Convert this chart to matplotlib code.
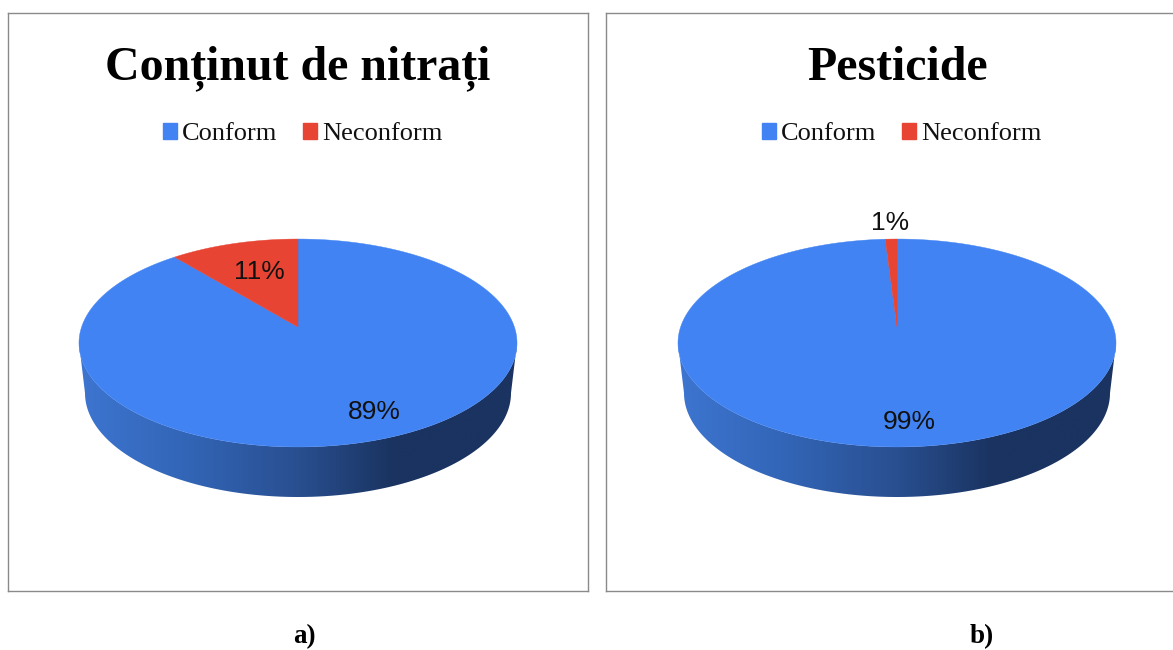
import numpy as np
import matplotlib
matplotlib.use("Agg")
import matplotlib.pyplot as plt
from matplotlib.colors import LinearSegmentedColormap
from matplotlib.patches import Patch, Polygon

plt.rcParams['font.family'] = ['Liberation Serif', 'DejaVu Serif']

# data
categories = ["Conform", "Neconform"]
nitrati_values = [89, 11]
pesticide_values = [99, 1]
titles = ["Conținut de nitrați", "Pesticide"]
captions = ["a)", "b)"]

BLUE = "#4183f2"
RED = "#e84433"
W, H = 1173, 650

side_cmap = LinearSegmentedColormap.from_list(
    "side", [(0, "#3d75d0"), (0.25, "#3265b6"), (0.5, "#294f90"), (0.72, "#1a3360"), (1, "#1a3360")])


def project(u, v, cx):
    # unit disc -> tilted ellipse, apex sits above the ellipse centre
    k = 0.1538
    return cx + 216.4 * u / (1 + k * v), 327 - 101.5 * v / (1 + k * v)


def add_axes_px(fig, x0, x1, y0, y1):
    ax = fig.add_axes([x0 / W, 1 - y1 / H, (x1 - x0) / W, (y1 - y0) / H])
    ax.set_xlim(x0, x1)
    ax.set_ylim(y1, y0)
    ax.set_xticks([])
    ax.set_yticks([])
    for s in ax.spines.values():
        s.set_color("#8a8a8a")
        s.set_linewidth(1.0)
    return ax


def draw_pie(ax, values, cx, title, label_xy):
    # side wall, gradient clipped to the outline
    t = np.linspace(0, np.pi, 300)
    top_x = cx + 219 * np.cos(t)
    top_y = 343 + 104 * np.sin(t)
    bot_x = cx + 213 * np.cos(t[::-1])
    bot_y = 393 + 104 * np.sin(t[::-1])
    outline = Polygon(np.column_stack([np.r_[top_x, bot_x], np.r_[top_y, bot_y]]),
                      closed=True, facecolor="none", edgecolor="none")
    ax.add_patch(outline)
    grad = np.linspace(0, 1, 256).reshape(1, -1)
    im = ax.imshow(grad, cmap=side_cmap, aspect="auto", zorder=1,
                   extent=(cx - 219, cx + 219, 500, 340))
    im.set_clip_path(outline)
    ax.set_xlim(ax.get_xlim())

    # top face, clockwise from 12 o'clock; the smaller slice ends at the top
    shares = np.array(values) / sum(values)
    start = 0.0
    for share, color in zip(shares, [BLUE, RED]):
        a = 2 * np.pi * np.linspace(start, start + share, 400)
        x, y = project(np.sin(a), np.cos(a), cx)
        ax.fill(np.r_[cx, x], np.r_[327, y], color=color, linewidth=0.3, zorder=2)
        start += share

    for val, (lx, ly) in zip(values, label_xy):
        ax.text(lx, ly, f"{val}%", family="Liberation Sans", fontsize=19,
                ha="center", va="center", color="#111111", zorder=3)

    ax.text(cx, 68, title, fontsize=34.5, fontweight="bold", ha="center", va="center")

    handles = [Patch(color=BLUE), Patch(color=RED)]
    ax.legend(handles, categories, ncol=2, frameon=False, fontsize=19,
              loc="center", bbox_to_anchor=(cx + 4.5, 134),
              bbox_transform=ax.transData,
              handlelength=0.54, handleheight=0.54, handletextpad=0.2,
              columnspacing=0.95, borderpad=0, labelcolor="#111111")


fig = plt.figure(figsize=(W / 100, H / 100), dpi=100, facecolor="white")

ax1 = add_axes_px(fig, 8, 588, 13, 591)
draw_pie(ax1, nitrati_values, 298, titles[0], [(374, 412), (259, 272)])

ax2 = add_axes_px(fig, 606, 1186, 13, 591)
draw_pie(ax2, pesticide_values, 897, titles[1], [(909, 422), (890, 223)])

fig.text(304 / W, 1 - 643 / H, captions[0], fontsize=19.5, fontweight="bold", ha="center", va="baseline")
fig.text(982 / W, 1 - 643 / H, captions[1], fontsize=19.5, fontweight="bold", ha="center", va="baseline")

fig.savefig("out.png", dpi=100)
